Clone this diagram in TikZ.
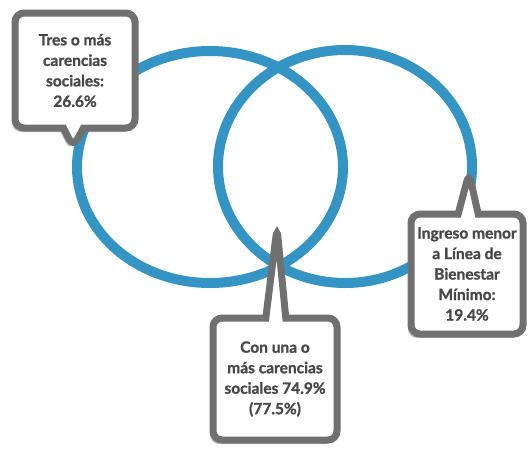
\documentclass[tikz,border=0pt]{standalone}
\usepackage{fontspec}
\setmainfont{Lato}[BoldFeatures={FakeBold=1.2}]
\usetikzlibrary{shapes.callouts,shadows}
\definecolor{anillo}{RGB}{52,148,196}
\definecolor{marco}{RGB}{112,112,112}
\definecolor{texto}{RGB}{72,72,72}
\begin{document}
\begin{tikzpicture}[x=1pt,y=-1pt,
    anillo/.style={draw=anillo, line width=10pt},
    globo/.style={rectangle callout, draw=marco, line width=7pt, fill=white,
      rounded corners=9pt, align=center, text=texto, inner sep=0pt,
      font=\fontsize{15.5}{20.5}\selectfont\bfseries, callout pointer width=20pt,
      drop shadow={shadow xshift=-3pt, shadow yshift=-4pt, fill=black!50, opacity=.5}}]
    \useasboundingbox (0,0) rectangle (529,461);
    % Los dos conjuntos
    \draw[anillo] (210,167) ellipse [x radius=133pt, y radius=116pt];
    \draw[anillo] (345,166.5) ellipse [x radius=127pt, y radius=116.5pt];
    % Puntas de los globos
    \coordinate (ptres) at (73,147);
    \coordinate (pingreso) at (469,173);
    \coordinate (pcon) at (277,228);
    \node[globo, minimum width=120pt, minimum height=115pt, callout absolute pointer={(ptres)}]
        (tres) at (75,70.5) {Tres o más\\carencias\\sociales:\\26.6\%};
    \node[globo, minimum width=112pt, minimum height=120pt, callout absolute pointer={(pingreso)}]
        (ingreso) at (467,274) {Ingreso menor\\a Línea de\\Bienestar\\Mínimo:\\19.4\%};
    \node[globo, minimum width=124pt, minimum height=122pt, callout absolute pointer={(pcon)}]
        (con) at (275,379) {Con una o\\más carencias\\sociales 74.9\%\\(77.5\%)};
\end{tikzpicture}
\end{document}
